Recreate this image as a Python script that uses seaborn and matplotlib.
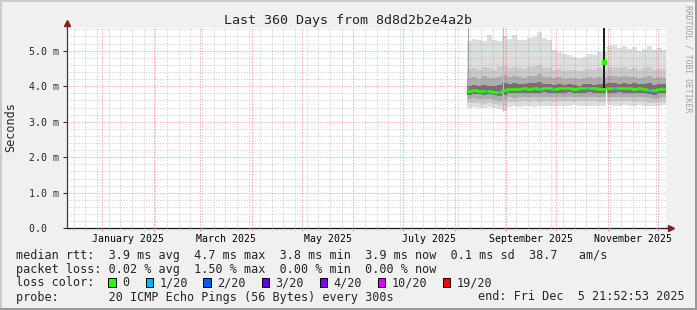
import numpy as np
import pandas as pd
import matplotlib
matplotlib.use("Agg")
import matplotlib.pyplot as plt
import matplotlib.dates as mdates
from matplotlib.ticker import MultipleLocator, FixedLocator, NullFormatter, FixedFormatter
from matplotlib.transforms import blended_transform_factory
from matplotlib.patches import Rectangle
from matplotlib.lines import Line2D
import seaborn as sns

# ---------------- data ----------------
title = "Last 360 Days from 8d8d2b2e4a2b"
end_time = "2025-12-05 21:52:53"
span_days = 360
first_bucket = "2025-08-08 12:00"
bucket_days = 3

ping_max = [5.26, 5.33, 5.31, 5.27, 5.43, 5.30, 5.28, 5.40, 5.33, 5.45,
            5.30, 5.31, 5.36, 5.38, 5.52, 5.36, 5.30, 5.03, 4.96, 4.91,
            4.88, 4.83, 4.79, 4.81, 4.90, 4.88, 4.95, 4.96, 5.13, 5.15,
            5.08, 5.12, 5.05, 5.10, 4.99, 5.05, 5.13, 5.02, 5.08, 5.01]
ping_hi2 = [4.48, 4.52, 4.46, 4.55, 4.50, 4.47, 4.53, 4.58, 4.50, 4.55,
            4.52, 4.48, 4.54, 4.57, 4.60, 4.52, 4.50, 4.46, 4.49, 4.44,
            4.47, 4.45, 4.42, 4.46, 4.48, 4.45, 4.50, 4.47, 4.55, 4.52,
            4.50, 4.53, 4.49, 4.51, 4.47, 4.50, 4.53, 4.46, 4.49, 4.48]
ping_hi3 = [4.22, 4.25, 4.20, 4.28, 4.24, 4.22, 4.27, 4.32, 4.26, 4.29,
            4.27, 4.24, 4.28, 4.30, 4.33, 4.27, 4.25, 4.22, 4.25, 4.21,
            4.24, 4.22, 4.20, 4.23, 4.25, 4.22, 4.26, 4.24, 4.30, 4.28,
            4.26, 4.29, 4.25, 4.27, 4.23, 4.26, 4.28, 4.22, 4.25, 4.24]
ping_hi4 = [4.01, 4.03, 4.00, 4.04, 4.02, 4.00, 4.03, 4.08, 4.06, 4.08,
            4.07, 4.05, 4.08, 4.09, 4.11, 4.07, 4.06, 4.04, 4.06, 4.03,
            4.05, 4.04, 4.02, 4.05, 4.06, 4.04, 4.07, 4.05, 4.10, 4.08,
            4.07, 4.09, 4.06, 4.08, 4.05, 4.07, 4.08, 4.03, 4.06, 4.05]
median_rtt = [3.86, 3.88, 3.87, 3.86, 3.87, 3.85, 3.83, 3.90, 3.93, 3.92,
              3.93, 3.94, 3.93, 3.94, 3.93, 3.95, 3.94, 3.93, 3.94, 3.94,
              3.95, 3.93, 3.94, 3.94, 3.95, 3.94, 3.93, 3.93, 3.94, 3.94,
              3.95, 3.94, 3.94, 3.93, 3.94, 3.93, 3.90, 3.88, 3.92, 3.93]
ping_lo4 = [3.76, 3.78, 3.77, 3.75, 3.77, 3.74, 3.72, 3.76, 3.81, 3.80,
            3.81, 3.82, 3.81, 3.82, 3.81, 3.83, 3.82, 3.81, 3.82, 3.82,
            3.83, 3.81, 3.82, 3.82, 3.83, 3.82, 3.81, 3.81, 3.82, 3.82,
            3.83, 3.82, 3.82, 3.81, 3.82, 3.81, 3.78, 3.76, 3.80, 3.81]
ping_lo3 = [3.64, 3.66, 3.65, 3.63, 3.65, 3.62, 3.58, 3.60, 3.69, 3.68,
            3.69, 3.70, 3.69, 3.71, 3.69, 3.71, 3.70, 3.69, 3.70, 3.70,
            3.71, 3.69, 3.70, 3.70, 3.71, 3.70, 3.69, 3.69, 3.70, 3.70,
            3.71, 3.70, 3.70, 3.69, 3.70, 3.69, 3.66, 3.64, 3.68, 3.69]
ping_lo2 = [3.52, 3.54, 3.53, 3.51, 3.53, 3.50, 3.46, 3.44, 3.56, 3.55,
            3.56, 3.57, 3.56, 3.58, 3.56, 3.58, 3.57, 3.56, 3.57, 3.57,
            3.58, 3.56, 3.57, 3.57, 3.58, 3.57, 3.56, 3.56, 3.57, 3.57,
            3.58, 3.57, 3.57, 3.56, 3.57, 3.56, 3.54, 3.52, 3.55, 3.56]
ping_min = [3.40, 3.41, 3.40, 3.39, 3.41, 3.38, 3.35, 3.30, 3.42, 3.43,
            3.42, 3.44, 3.43, 3.42, 3.44, 3.43, 3.45, 3.44, 3.43, 3.45,
            3.44, 3.46, 3.45, 3.44, 3.43, 3.45, 3.44, 3.43, 3.46, 3.45,
            3.44, 3.46, 3.45, 3.44, 3.46, 3.45, 3.43, 3.44, 3.45, 3.46]

# narrow outlier buckets (single columns of smoke)
spike_times = ["2025-08-09 02:00", "2025-08-30 03:00", "2025-10-29 21:00"]
spike_low = [3.90, 3.30, 3.95]
spike_high = [5.80, 5.80, 5.80]
spike_shade = ["#a0a0a0", "#bdbdbd", "#1a1a1a"]
spike_width = [0.75, 0.75, 1.4]
peak_time = "2025-10-29 21:00"
peak_median = 4.69
gap_time = "2025-10-30 20:00"
gap_low, gap_high = 3.37, 3.95

# packet-loss events on the median line
loss_event_dates = ["2025-08-19 00:00", "2025-08-26 19:00", "2025-09-19 22:00",
                    "2025-09-28 14:00", "2025-10-19 02:00", "2025-11-04 07:00",
                    "2025-11-25 08:00"]
loss_event_count = [1, 1, 1, 1, 1, 1, 1]
loss_event_days = 1.3

loss_thresholds = [0, 1, 2, 3, 4, 10, 19]
loss_labels = ["0", "1/20", "2/20", "3/20", "4/20", "10/20", "19/20"]
loss_colors = ["#26ff00", "#00b8ff", "#0059ff", "#5e00ff", "#7e00ff", "#dd00ff", "#ff0000"]

y_tick_values = [0, 1, 2, 3, 4, 5]
y_tick_labels = ["0.0  ", "1.0 m", "2.0 m", "3.0 m", "4.0 m", "5.0 m"]
month_labels = ["January 2025", "March 2025", "May 2025", "July 2025",
                "September 2025", "November 2025"]
month_label_dates = ["2025-01-16 12:00", "2025-03-16 12:00", "2025-05-16 12:00",
                     "2025-07-16 12:00", "2025-09-16 00:00", "2025-11-16 00:00"]

legend_rtt = "median rtt:  3.9 ms avg  4.7 ms max  3.8 ms min  3.9 ms now  0.1 ms sd  38.7   am/s"
legend_loss = "packet loss: 0.02 % avg  1.50 % max  0.00 % min  0.00 % now"
legend_color_title = "loss color:"
legend_probe = "probe:       20 ICMP Echo Pings (56 Bytes) every 300s"
legend_end = "end: Fri Dec  5 21:52:53 2025"
watermark = "RRDTOOL / TOBI OETIKER"
ylabel = "Seconds"


def num(d):
    if isinstance(d, (list, tuple)):
        return mdates.date2num(pd.to_datetime(d).to_pydatetime())
    return mdates.date2num(pd.Timestamp(d).to_pydatetime())


def ext(a):
    return np.r_[np.asarray(a, float), a[-1]]


# ---------------- figure ----------------
W, H = 697, 310
sns.set_style("white")
plt.rcParams["font.family"] = ["DejaVu Sans Mono"]
fig = plt.figure(figsize=(W / 100, H / 100), dpi=100, facecolor="#f0f0f0")
L, R, T, B = 67, 666, 28, 228.3
ax = fig.add_axes([L / W, 1 - B / H, (R - L) / W, (B - T) / H])
ax.set_facecolor("white")
px_per_ms = 35.52

edges = pd.date_range(first_bucket, periods=len(median_rtt), freq=f"{bucket_days}D")
edges = edges.append(pd.DatetimeIndex([pd.Timestamp(end_time)]))
te = mdates.date2num(edges.to_pydatetime())

bands = [(ping_min, ping_max, "#dedede"),
         (ping_lo2, ping_hi2, "#cacaca"),
         (ping_lo3, ping_hi3, "#adadad"),
         (ping_lo4, ping_hi4, "#737373")]
for lo, hi, c in bands:
    ax.fill_between(te, ext(lo), ext(hi), step="post", color=c, lw=0, zorder=1)

ax.vlines(num(spike_times), spike_low, spike_high, colors=spike_shade,
          lw=spike_width, zorder=1.6)
ax.vlines(num(gap_time), gap_low, gap_high, colors="white", lw=0.9, zorder=1.7)

df = pd.DataFrame({"t": te, "rtt": ext(median_rtt)})
sns.lineplot(data=df, x="t", y="rtt", drawstyle="steps-post", color=loss_colors[0],
             linewidth=1.8, estimator=None, sort=False, ax=ax, zorder=4)

for d, c in zip(loss_event_dates, loss_event_count):
    t0 = num(d)
    idx = int(np.searchsorted(te, t0, side="right") - 1)
    k = max(i for i, th in enumerate(loss_thresholds) if th <= c)
    ax.hlines(median_rtt[idx], t0, t0 + loss_event_days, color=loss_colors[k], lw=1.8, zorder=5)

ax.plot([num(peak_time)], [peak_median], marker="s", ms=2.4, color=loss_colors[0],
        mec=loss_colors[0], lw=0, zorder=6)

ax.set_xlim(num(pd.Timestamp(end_time) - pd.Timedelta(days=span_days)), num(end_time))
ax.set_ylim(0, (B - T) / px_per_ms)
ax.set_xlabel("")
ax.set_ylabel("")

# grid / ticks
ax.xaxis.set_major_locator(mdates.MonthLocator())
ax.xaxis.set_minor_locator(mdates.WeekdayLocator(byweekday=mdates.SU))
ax.xaxis.set_major_formatter(NullFormatter())
ax.xaxis.set_minor_formatter(NullFormatter())
ax.yaxis.set_major_locator(FixedLocator(y_tick_values))
ax.yaxis.set_major_formatter(FixedFormatter(y_tick_labels))
ax.yaxis.set_minor_locator(MultipleLocator(0.2))
ax.set_axisbelow(False)
ax.grid(which="minor", color="#7a7a7a", alpha=0.30, lw=0.72, ls=(0, (1.4, 1.4)))
ax.grid(which="major", color="#ff2020", alpha=0.38, lw=0.72, ls=(0, (1.4, 1.4)))

ax.tick_params(axis="y", which="major", direction="out", length=2.9, width=0.8,
               color="#333333", labelsize=7.1, pad=2.6, left=True)
ax.tick_params(axis="y", which="minor", length=0, left=False)
ax.tick_params(axis="x", which="major", direction="out", length=2.0, width=0.8,
               color="#f09a9a", bottom=True, labelbottom=False)
ax.tick_params(axis="x", which="minor", direction="out", length=1.4, width=0.7,
               color="#c8c8c8", bottom=True)

for s in ["top", "right"]:
    ax.spines[s].set_visible(False)
ax.spines["left"].set_color("#3c3c3c")
ax.spines["left"].set_linewidth(0.9)
ax.spines["bottom"].set_color("#1a1a1a")
ax.spines["bottom"].set_linewidth(0.9)

# axis extensions and arrows
ax.plot([0, 0], [1, 1.02], transform=ax.transAxes, color="#3c3c3c", lw=0.9, clip_on=False)
ax.plot([0], [1.024], marker="^", ms=4.6, color="#8c1c1c", transform=ax.transAxes,
        clip_on=False, lw=0)
ax.plot([1, 1.006], [0, 0], transform=ax.transAxes, color="#1a1a1a", lw=0.9, clip_on=False)
ax.plot([1.0085], [0], marker=">", ms=4.6, color="#8c1c1c", transform=ax.transAxes,
        clip_on=False, lw=0)

# month labels
trans = blended_transform_factory(ax.transData, ax.transAxes)
for d, lab in zip(month_label_dates, month_labels):
    ax.text(num(d), -(241.5 - B) / (B - T), lab, transform=trans, ha="center",
            va="baseline", fontsize=7.1, color="black")

# texts
fig.text(348 / W, 1 - 24 / H, title, ha="center", va="baseline", fontsize=9.6)
fig.text(10.5 / W, 1 - 127 / H, ylabel, rotation=90, ha="center", va="center", fontsize=8.5)
fig.text(688 / W, 1 - 5 / H, watermark, rotation=270, ha="center", va="top",
         fontsize=5.9, color="#a0a0a0")

fig.text(15.5 / W, 1 - 258.5 / H, legend_rtt, fontsize=8.5, va="baseline")
fig.text(15.5 / W, 1 - 272.5 / H, legend_loss, fontsize=8.5, va="baseline")
fig.text(15.5 / W, 1 - 286.5 / H, legend_color_title, fontsize=8.5, va="baseline")
fig.text(15.5 / W, 1 - 300.5 / H, legend_probe, fontsize=8.5, va="baseline")
fig.text(477.5 / W, 1 - 300.5 / H, legend_end, fontsize=8.5, va="baseline")

sq_x = [108.3, 145.7, 203.3, 261.7, 319.7, 377.7, 442.7]
lab_x = [122.5, 159.5, 217.0, 275.0, 333.3, 391.7, 456.3]
for sx, lx, lab, col in zip(sq_x, lab_x, loss_labels, loss_colors):
    fig.add_artist(Rectangle((sx / W, 1 - 287.0 / H), 7.5 / W, 9.0 / H,
                             transform=fig.transFigure, facecolor=col,
                             edgecolor="black", lw=0.7))
    fig.text(lx / W, 1 - 286.5 / H, lab, fontsize=8.5, va="baseline")

# 3D frame
fig.add_artist(Line2D([1 / W, 1 / W], [0, 1], transform=fig.transFigure, color="#cbcbcb", lw=1.44))
fig.add_artist(Line2D([0, 1], [1 - 1 / H, 1 - 1 / H], transform=fig.transFigure, color="#cbcbcb", lw=1.44))
fig.add_artist(Line2D([1 - 1 / W, 1 - 1 / W], [0, 1], transform=fig.transFigure, color="#999999", lw=1.44))
fig.add_artist(Line2D([0, 1], [1 / H, 1 / H], transform=fig.transFigure, color="#999999", lw=1.44))

fig.savefig("out.png", dpi=100, facecolor=fig.get_facecolor())
